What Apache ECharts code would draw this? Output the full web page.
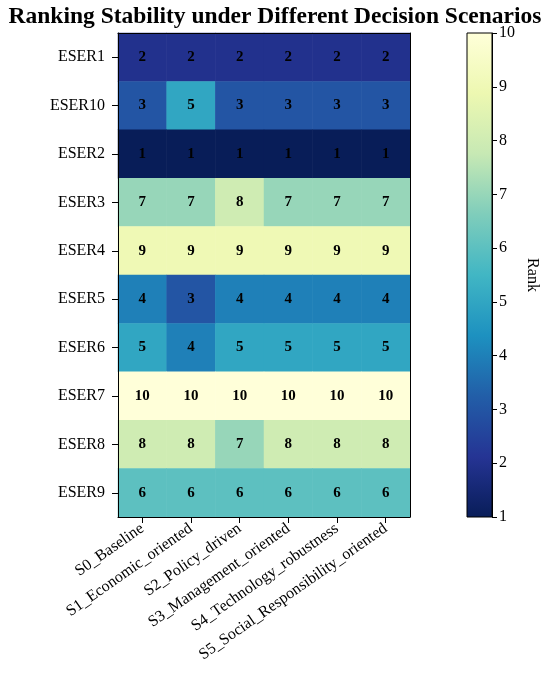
<!DOCTYPE html>
<html>
<head>
<meta charset="utf-8">
<script src="https://cdn.jsdelivr.net/npm/echarts@6/dist/echarts.min.js"></script>
<style>html,body{margin:0;padding:0;background:#fff}#c{width:550px;height:674px}</style>
</head>
<body>
<div id="c"></div>
<script>
const scenarios = ['S0_Baseline','S1_Economic_oriented','S2_Policy_driven','S3_Management_oriented','S4_Technology_robustness','S5_Social_Responsibility_oriented'];
const alternatives = ['ESER1','ESER10','ESER2','ESER3','ESER4','ESER5','ESER6','ESER7','ESER8','ESER9'];
const ranks = [
  [2,2,2,2,2,2],
  [3,5,3,3,3,3],
  [1,1,1,1,1,1],
  [7,7,8,7,7,7],
  [9,9,9,9,9,9],
  [4,3,4,4,4,4],
  [5,4,5,5,5,5],
  [10,10,10,10,10,10],
  [8,8,7,8,8,8],
  [6,6,6,6,6,6]
];
const colorbarTicks = [1,2,3,4,5,6,7,8,9,10];
const cmap = ['#081d58','#253494','#225ea8','#1d91c0','#41b6c4','#7fcdbb','#c7e9b4','#edf8b1','#ffffd9'];

const data = [];
ranks.forEach((row, r) => row.forEach((v, c) => data.push([c, r, v])));

const font = 'Liberation Serif, Times New Roman, serif';
const chart = echarts.init(document.getElementById('c'));
const gL = 118, gT = 33, gW = 292, gH = 484;
const cbL = 467, cbW = 25;

chart.setOption({
  animation: false,
  backgroundColor: '#fff',
  textStyle: { fontFamily: font, color: '#000' },
  title: {
    text: 'Ranking Stability under Different Decision Scenarios',
    left: 'center', top: 0,
    textStyle: { fontFamily: font, fontSize: 23.5, fontWeight: 'bold', color: '#000' }
  },
  grid: [
    { left: gL, top: gT, width: gW, height: gH },
    { left: cbL, top: gT, width: cbW, height: gH, show: true, borderColor: '#000', borderWidth: 1,
      backgroundColor: { type: 'linear', x: 0, y: 1, x2: 0, y2: 0,
        colorStops: cmap.map((c, i) => ({ offset: i / (cmap.length - 1), color: c })) } }
  ],
  xAxis: [
    { type: 'category', data: scenarios, gridIndex: 0, position: 'bottom',
      axisLine: { show: true, lineStyle: { color: '#000', width: 1 } },
      axisTick: { show: true, alignWithLabel: true, length: 6, lineStyle: { color: '#000' } },
      axisLabel: { rotate: 35, fontFamily: font, fontSize: 16, color: '#000', margin: 10, interval: 0 },
      splitLine: { show: false }, z: 10 },
    { type: 'category', data: scenarios, gridIndex: 0, position: 'top',
      axisLine: { show: true, onZero: false, lineStyle: { color: '#000', width: 1 } },
      axisTick: { show: false }, axisLabel: { show: false }, z: 10 },
    { type: 'category', data: [''], gridIndex: 1, show: false }
  ],
  yAxis: [
    { type: 'category', data: alternatives, inverse: true, gridIndex: 0, position: 'left',
      axisLine: { show: true, lineStyle: { color: '#000', width: 1 } },
      axisTick: { show: true, alignWithLabel: true, length: 6, lineStyle: { color: '#000' } },
      axisLabel: { fontFamily: font, fontSize: 16, color: '#000', margin: 13, interval: 0 },
      splitLine: { show: false }, z: 10 },
    { type: 'category', data: alternatives, inverse: true, gridIndex: 0, position: 'right',
      axisLine: { show: true, onZero: false, lineStyle: { color: '#000', width: 1 } },
      axisTick: { show: false }, axisLabel: { show: false }, z: 10 },
    { type: 'value', gridIndex: 1, min: 1, max: 10, interval: 1, position: 'right',
      name: 'Rank', nameLocation: 'middle', nameRotate: -90, nameGap: 32,
      nameTextStyle: { fontFamily: font, fontSize: 16, color: '#000' },
      axisLine: { show: true, lineStyle: { color: '#000', width: 1 } },
      axisTick: { show: true, length: 5, lineStyle: { color: '#000' } },
      axisLabel: { fontFamily: font, fontSize: 16, color: '#000', margin: 7,
        formatter: v => colorbarTicks.includes(v) ? String(v) : '' },
      splitLine: { show: false } }
  ],
  visualMap: {
    show: false, type: 'continuous', min: 1, max: 10, seriesIndex: 0,
    dimension: 2, inRange: { color: cmap }
  },
  series: [{
    type: 'heatmap', xAxisIndex: 0, yAxisIndex: 0, data: data,
    label: { show: true, fontFamily: font, fontSize: 15, fontWeight: 'bold', color: '#000',
      formatter: p => String(p.value[2]) },
    itemStyle: { borderWidth: 0 },
    emphasis: { disabled: true }
  }]
});
</script>
</body>
</html>
